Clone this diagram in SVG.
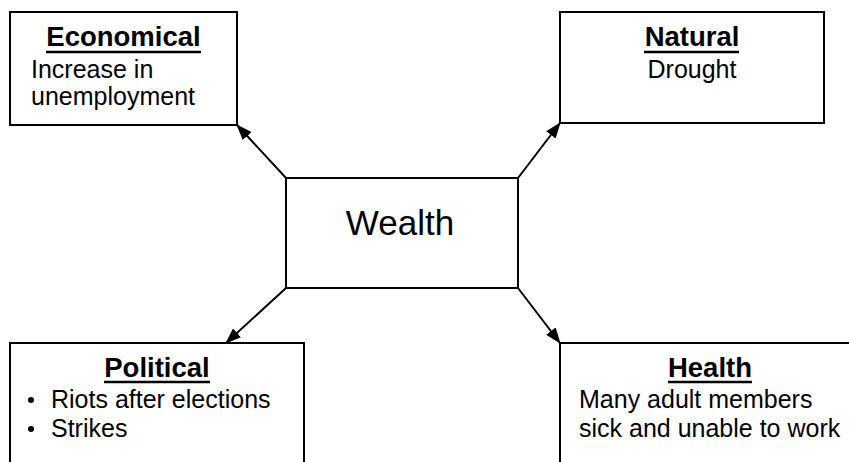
<svg xmlns="http://www.w3.org/2000/svg" width="849" height="462" viewBox="0 0 849 462">
  <style>
    .box { fill: #ffffff; stroke: #000000; stroke-width: 2; }
    .title { font-family: "Liberation Sans", Arial, sans-serif; font-size: 27.5px; font-weight: bold; text-anchor: middle; fill: #000; }
    .body { font-family: "Liberation Sans", Arial, sans-serif; font-size: 25px; fill: #000; }
    .center { text-anchor: middle; }
    .uline { stroke: #000; stroke-width: 2.4; }
    .conn { stroke: #000; stroke-width: 2; fill: none; marker-end: url(#arrow); }
  </style>
  <defs>
    <marker id="arrow" viewBox="0 0 16 12" refX="15" refY="6" markerWidth="16" markerHeight="12" markerUnits="userSpaceOnUse" orient="auto">
      <path d="M0,0 L16,6 L0,12 Z" fill="#000"/>
    </marker>
  </defs>
  <rect width="849" height="462" fill="#ffffff"/>

  <g id="connectors">
    <line class="conn" x1="286" y1="178" x2="237" y2="125"/>
    <line class="conn" x1="518" y1="178" x2="560" y2="123"/>
    <line class="conn" x1="286" y1="288" x2="226" y2="343"/>
    <line class="conn" x1="518" y1="288" x2="560" y2="343"/>
  </g>

  <g id="wealth">
    <rect class="box" x="286" y="178" width="232" height="110"/>
    <text class="body center" x="400" y="235" style="font-size:35px">Wealth</text>
  </g>

  <g id="economical">
    <rect class="box" x="10" y="12" width="227" height="113"/>
    <text class="title" x="123.5" y="46">Economical</text>
    <line class="uline" x1="46" y1="52" x2="201" y2="52"/>
    <text class="body" x="31" y="78">Increase in</text>
    <text class="body" x="31" y="105">unemployment</text>
  </g>

  <g id="natural">
    <rect class="box" x="560" y="12" width="264" height="111"/>
    <text class="title" x="692" y="46">Natural</text>
    <line class="uline" x1="644" y1="52" x2="739" y2="52"/>
    <text class="body center" x="692" y="78">Drought</text>
  </g>

  <g id="political">
    <rect class="box" x="10" y="343" width="294" height="140"/>
    <text class="title" x="157" y="377">Political</text>
    <line class="uline" x1="104" y1="382" x2="210" y2="382"/>
    <circle cx="31" cy="400" r="3" fill="#000"/>
    <text class="body" x="51" y="408">Riots after elections</text>
    <circle cx="31" cy="429" r="3" fill="#000"/>
    <text class="body" x="51" y="437">Strikes</text>
  </g>

  <g id="health">
    <rect class="box" x="560" y="343" width="300" height="140"/>
    <text class="title" x="710" y="377">Health</text>
    <line class="uline" x1="668" y1="382" x2="752" y2="382"/>
    <text class="body" x="579" y="408">Many adult members</text>
    <text class="body" x="579" y="437">sick and unable to work</text>
  </g>
</svg>
